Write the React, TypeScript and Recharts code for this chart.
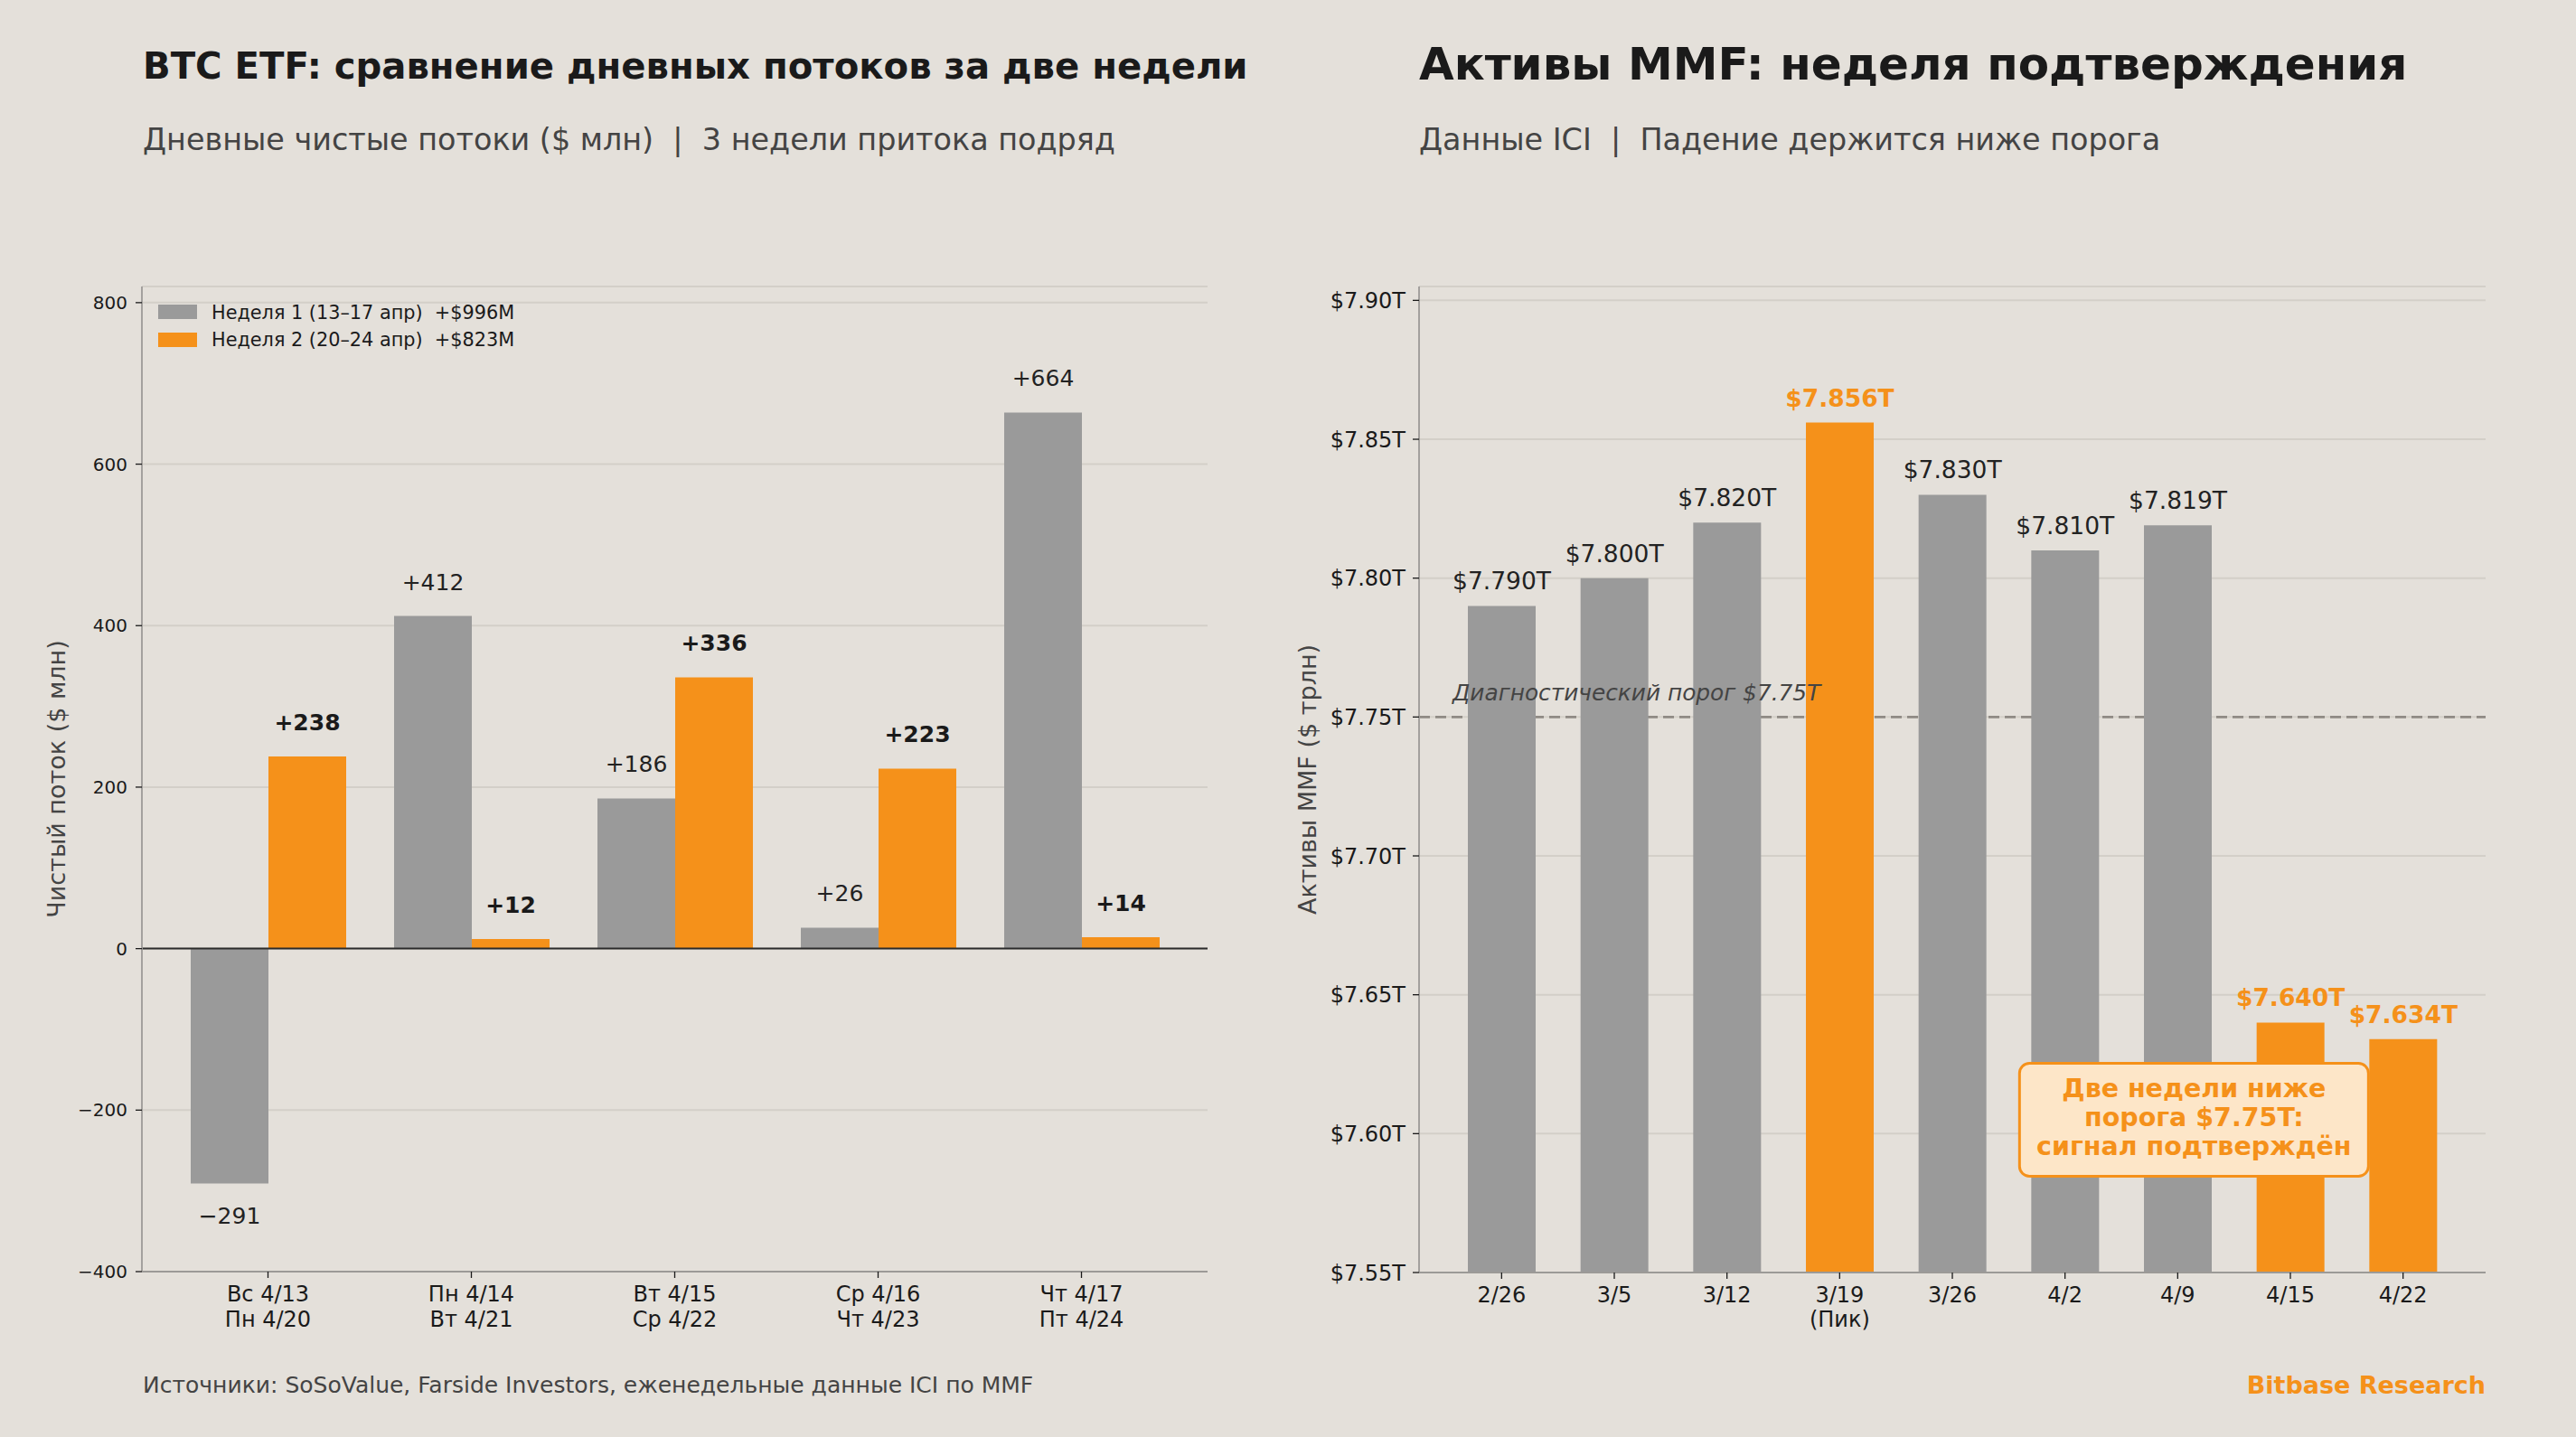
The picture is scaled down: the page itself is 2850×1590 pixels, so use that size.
import React from "react";
import {
  Bar,
  BarChart,
  CartesianGrid,
  Cell,
  LabelList,
  ReferenceDot,
  ReferenceLine,
  XAxis,
  YAxis,
} from "recharts";

const FONT = '"DejaVu Sans", "Noto Sans", sans-serif';
const BG = "#E4E0DA";
const ORANGE = "#F5911A";
const GRAY = "#9A9A9A";
const GRID = "#D3CFC8";
const SPINE = "#9C9A97";
const INK = "#1A1A1A";
const MUTED = "#444444";

// BTC ETF daily net flows, $M (week 1 vs week 2, same weekday slot)
const weekOneDays = ["Вс 4/13", "Пн 4/14", "Вт 4/15", "Ср 4/16", "Чт 4/17"];
const weekTwoDays = ["Пн 4/20", "Вт 4/21", "Ср 4/22", "Чт 4/23", "Пт 4/24"];
const weekOneFlows = [-291, 412, 186, 26, 664];
const weekTwoFlows = [238, 12, 336, 223, 14];
const flowTicks = [-400, -200, 0, 200, 400, 600, 800];
const weekNames = ["Неделя 1 (13–17 апр)  +$996M", "Неделя 2 (20–24 апр)  +$823M"];
const weekColors = [GRAY, ORANGE];

// Money market fund assets, $T
const mmfWeeks = ["2/26", "3/5", "3/12", "3/19", "3/26", "4/2", "4/9", "4/15", "4/22"];
const mmfNotes = ["", "", "", "(Пик)", "", "", "", "", ""];
const mmfAssets = [7.79, 7.8, 7.82, 7.856, 7.83, 7.81, 7.819, 7.64, 7.634];
const mmfHighlight = [false, false, false, true, false, false, false, true, true];
const mmfTicks = [7.55, 7.6, 7.65, 7.7, 7.75, 7.8, 7.85, 7.9];
const THRESHOLD = 7.75;
const noteLines = ["Две недели ниже", "порога $7.75T:", "сигнал подтверждён"];

const flowRows = weekOneDays.map((day, i) => ({
  day,
  w1: weekOneFlows[i],
  w2: weekTwoFlows[i],
}));

const mmfRows = mmfWeeks.map((week, i) => ({ week, assets: mmfAssets[i] }));

const signed = (v: number) => (v < 0 ? `−${Math.abs(v)}` : `+${v}`);
const minusTick = (v: number) => (v < 0 ? `−${Math.abs(v)}` : `${v}`);
const trillions = (v: number) => `$${v.toFixed(2)}T`;

const boxOf = (p: any) => {
  const vb = p.viewBox && typeof p.viewBox.x === "number" ? p.viewBox : p;
  return { x: vb.x, y: vb.y, width: vb.width, height: vb.height };
};

const flowLabel = (bold: boolean) => (p: any) => {
  const { x, y, width, height } = boxOf(p);
  const v = Number(p.value);
  const top = Math.min(y, y + height);
  const bottom = Math.max(y, y + height);
  const ty = v >= 0 ? top - 29 : bottom + 44;
  return (
    <text
      x={x + width / 2}
      y={ty}
      textAnchor="middle"
      fontFamily={FONT}
      fontSize={25}
      fontWeight={bold ? "bold" : "normal"}
      fill={bold ? INK : "#222222"}
    >
      {signed(v)}
    </text>
  );
};

const mmfLabel = (p: any) => {
  const { x, y, width, height } = boxOf(p);
  const v = Number(p.value);
  const hot = mmfHighlight[mmfAssets.indexOf(v)];
  const top = Math.min(y, y + height);
  return (
    <text
      x={x + width / 2}
      y={top - 18}
      textAnchor="middle"
      fontFamily={FONT}
      fontSize={26.5}
      fontWeight={hot ? "bold" : "normal"}
      fill={hot ? ORANGE : "#222222"}
    >
      {`$${v.toFixed(3)}T`}
    </text>
  );
};

const FlowTick = (p: any) => {
  const i = weekOneDays.indexOf(p.payload.value);
  return (
    <text x={p.x} textAnchor="middle" fontFamily={FONT} fontSize={24} fill={INK}>
      <tspan x={p.x} y={p.y + 24}>{weekOneDays[i]}</tspan>
      <tspan x={p.x} y={p.y + 52}>{weekTwoDays[i]}</tspan>
    </text>
  );
};

const WeekTick = (p: any) => {
  const i = mmfWeeks.indexOf(p.payload.value);
  return (
    <text x={p.x} textAnchor="middle" fontFamily={FONT} fontSize={24} fill={INK}>
      <tspan x={p.x} y={p.y + 24}>{mmfWeeks[i]}</tspan>
      {mmfNotes[i] && (
        <tspan x={p.x} y={p.y + 51}>{mmfNotes[i]}</tspan>
      )}
    </text>
  );
};

const axisTitle = (text: string, cx: number) => (p: any) => {
  const { y, height } = boxOf(p);
  const cy = y + height / 2;
  return (
    <text
      x={cx}
      y={cy}
      transform={`rotate(-90 ${cx} ${cy})`}
      textAnchor="middle"
      dominantBaseline="central"
      fontFamily={FONT}
      fontSize={27}
      fill={MUTED}
    >
      {text}
    </text>
  );
};

const ThresholdLabel = (p: any) => {
  const { x, y } = boxOf(p);
  return (
    <text
      x={x + 37}
      y={y - 18}
      fontFamily={FONT}
      fontSize={24.8}
      fontStyle="italic"
      fill={MUTED}
    >
      {`Диагностический порог $${THRESHOLD.toFixed(2)}T`}
    </text>
  );
};

// callout box sits a little right of the 4/9 column centre
const NoteBox = (p: any) => {
  const cx = p.cx + 18;
  const cy = p.cy;
  return (
    <g>
      <rect
        x={cx - 193}
        y={cy - 62.5}
        width={386}
        height={125}
        rx={11}
        ry={11}
        fill="#FDE6C8"
        stroke={ORANGE}
        strokeWidth={3}
      />
      {noteLines.map((line, i) => (
        <text
          key={line}
          x={cx}
          y={cy - 24.5 + i * 32}
          textAnchor="middle"
          fontFamily={FONT}
          fontSize={28.5}
          fontWeight="bold"
          fill={ORANGE}
        >
          {line}
        </text>
      ))}
    </g>
  );
};

function FlowChart() {
  return (
    <BarChart
      width={1400}
      height={1500}
      data={flowRows}
      margin={{ top: 317, right: 64, bottom: 0, left: 0 }}
      barGap={0}
    >
      <CartesianGrid vertical={false} stroke={GRID} strokeWidth={2} />
      <XAxis
        dataKey="day"
        height={93}
        interval={0}
        padding={{ left: 27, right: 27 }}
        tickSize={7}
        tickLine={{ stroke: INK, strokeWidth: 1.3 }}
        axisLine={{ stroke: SPINE, strokeWidth: 1.8 }}
        tick={<FlowTick />}
      />
      <YAxis
        width={157}
        domain={[-400, 820]}
        allowDataOverflow
        ticks={flowTicks}
        interval={0}
        tickFormatter={minusTick}
        tickSize={7}
        tickMargin={9}
        tick={{ fontSize: 20, fill: INK, fontFamily: FONT }}
        tickLine={{ stroke: INK, strokeWidth: 1.3 }}
        axisLine={{ stroke: SPINE, strokeWidth: 1.8 }}
        label={axisTitle("Чистый поток ($ млн)", 62)}
      />
      <Bar dataKey="w1" fill={weekColors[0]} barSize={86} isAnimationActive={false}>
        <LabelList dataKey="w1" content={flowLabel(false)} />
      </Bar>
      <Bar dataKey="w2" fill={weekColors[1]} barSize={86} isAnimationActive={false}>
        <LabelList dataKey="w2" content={flowLabel(true)} />
      </Bar>
      <ReferenceLine y={0} stroke="#2B2B2B" strokeWidth={2} />
    </BarChart>
  );
}

function AssetsChart() {
  return (
    <BarChart
      width={1450}
      height={1500}
      data={mmfRows}
      margin={{ top: 317, right: 100, bottom: 0, left: 0 }}
    >
      <CartesianGrid vertical={false} stroke={GRID} strokeWidth={2} />
      {/* dashed threshold sits in the grid layer so the columns cover it */}
      <CartesianGrid
        vertical={false}
        horizontalValues={[THRESHOLD]}
        stroke="#8F8A84"
        strokeWidth={2.8}
        strokeDasharray="12 6"
      />
      <XAxis
        dataKey="week"
        height={92}
        interval={0}
        padding={{ left: 29, right: 29 }}
        tickSize={7}
        tickLine={{ stroke: INK, strokeWidth: 1.3 }}
        axisLine={{ stroke: SPINE, strokeWidth: 1.8 }}
        tick={<WeekTick />}
      />
      <YAxis
        width={170}
        domain={[7.55, 7.905]}
        allowDataOverflow
        ticks={mmfTicks}
        interval={0}
        tickFormatter={trillions}
        tickSize={7}
        tickMargin={8}
        tick={{ fontSize: 24, fill: INK, fontFamily: FONT }}
        tickLine={{ stroke: INK, strokeWidth: 1.3 }}
        axisLine={{ stroke: SPINE, strokeWidth: 1.8 }}
        label={axisTitle("Активы MMF ($ трлн)", 46)}
      />
      <Bar dataKey="assets" barSize={75} isAnimationActive={false}>
        {mmfRows.map((row, i) => (
          <Cell key={row.week} fill={mmfHighlight[i] ? ORANGE : GRAY} />
        ))}
        <LabelList dataKey="assets" content={mmfLabel} />
      </Bar>
      <ReferenceLine y={THRESHOLD} strokeOpacity={0} label={ThresholdLabel} />
      <ReferenceDot x="4/9" y={7.605} r={0} shape={NoteBox} />
    </BarChart>
  );
}

export default function App() {
  return (
    <div
      style={{
        position: "absolute",
        left: 0,
        top: 0,
        width: 2850,
        height: 1590,
        background: BG,
        overflow: "hidden",
        fontFamily: FONT,
      }}
    >
      <svg
        width={2850}
        height={1590}
        style={{ position: "absolute", left: 0, top: 0 }}
        fontFamily={FONT}
      >
        <text x={158} y={87} fontSize={40.2} fontWeight="bold" fill={INK}>
          BTC ETF: сравнение дневных потоков за две недели
        </text>
        <text x={158} y={166} fontSize={33.4} fill={MUTED} style={{ whiteSpace: "pre" }}>
          {"Дневные чистые потоки ($ млн)  |  3 недели притока подряд"}
        </text>
        <text x={1570} y={88} fontSize={50} fontWeight="bold" fill={INK}>
          Активы MMF: неделя подтверждения
        </text>
        <text x={1570} y={166} fontSize={33.4} fill={MUTED} style={{ whiteSpace: "pre" }}>
          {"Данные ICI  |  Падение держится ниже порога"}
        </text>

        {weekNames.map((name, i) => (
          <g key={name}>
            <rect x={175} y={337 + i * 31} width={43} height={16} fill={weekColors[i]} />
            <text
              x={234}
              y={353 + i * 30}
              fontSize={20.8}
              fill={INK}
              style={{ whiteSpace: "pre" }}
            >
              {name}
            </text>
          </g>
        ))}

        <text x={158} y={1541} fontSize={25} fill={MUTED}>
          Источники: SoSoValue, Farside Investors, еженедельные данные ICI по MMF
        </text>
        <text
          x={2750}
          y={1542}
          fontSize={27}
          fontWeight="bold"
          fill={ORANGE}
          textAnchor="end"
        >
          Bitbase Research
        </text>
      </svg>
      <div style={{ position: "absolute", left: 0, top: 0 }}>
        <FlowChart />
      </div>
      <div style={{ position: "absolute", left: 1400, top: 0 }}>
        <AssetsChart />
      </div>
    </div>
  );
}
